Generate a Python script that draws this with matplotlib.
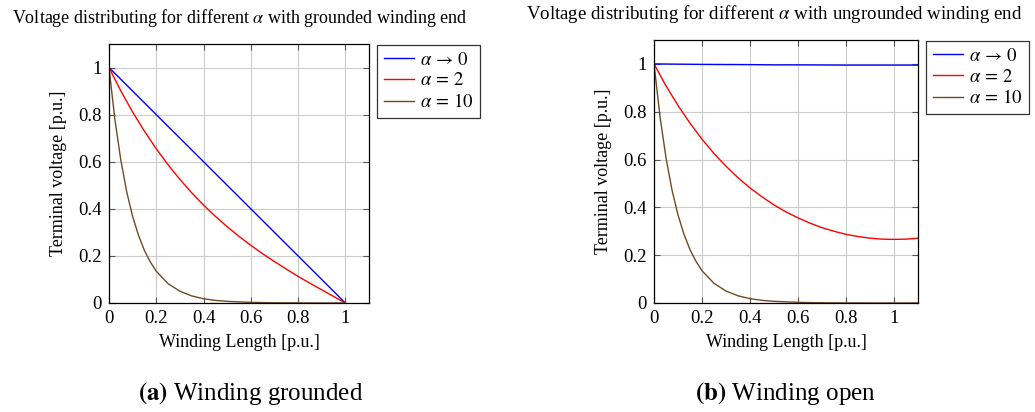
import numpy as np
import matplotlib
matplotlib.use("Agg")
import matplotlib.pyplot as plt

plt.rcParams['font.family'] = ['Liberation Serif', 'DejaVu Serif']
plt.rcParams['mathtext.fontset'] = 'stix'

# ---- data ----
x_lin = [0.0, 1.0]
g_a0 = [1.0, 0.0]

x_a2 = [0.0, 0.05, 0.1, 0.15, 0.2, 0.25, 0.3, 0.35, 0.4, 0.45, 0.5,
        0.55, 0.6, 0.65, 0.7, 0.75, 0.8, 0.85, 0.9, 0.95, 1.0]
g_a2 = [1.0, 0.901, 0.811, 0.730, 0.655, 0.587, 0.525, 0.468, 0.416, 0.368, 0.324,
        0.283, 0.245, 0.209, 0.176, 0.144, 0.113, 0.084, 0.056, 0.028, 0.0]

x_a10 = [0.0, 0.025, 0.05, 0.075, 0.1, 0.125, 0.15, 0.175, 0.2, 0.25, 0.3,
         0.35, 0.4, 0.45, 0.5, 0.6, 0.7, 0.8, 0.9, 1.0]
g_a10 = [1.0, 0.779, 0.607, 0.472, 0.368, 0.287, 0.223, 0.174, 0.135, 0.082, 0.050,
         0.030, 0.018, 0.011, 0.007, 0.0025, 0.0009, 0.0003, 0.0001, 0.0]

x_open0 = [0.0, 0.2, 0.4, 0.5, 0.6, 0.8, 1.0, 1.1]
o_a0 = [1.0, 0.998, 0.997, 0.996, 0.996, 0.995, 0.995, 0.995]

x_open2 = x_a2 + [1.05, 1.1]
o_a2 = [1.0, 0.908, 0.826, 0.752, 0.685, 0.625, 0.572, 0.524, 0.481, 0.444, 0.410,
        0.381, 0.356, 0.334, 0.315, 0.300, 0.287, 0.278, 0.271, 0.267, 0.266, 0.267, 0.271]

x_open10 = x_a10 + [1.1]
o_a10 = [1.0, 0.779, 0.607, 0.472, 0.368, 0.287, 0.223, 0.174, 0.135, 0.082, 0.050,
         0.030, 0.018, 0.011, 0.007, 0.0025, 0.0009, 0.0003, 0.0001, 0.0001, 0.0001]

labels = [r'$\alpha\,\rightarrow\,0$', r'$\alpha\,=\,2$', r'$\alpha\,=\,10$']
colors = ['#0000ff', '#ff0000', '#704a25']
ticks = [0, 0.2, 0.4, 0.6, 0.8, 1]
ticklabels = ['0', '0.2', '0.4', '0.6', '0.8', '1']

fig = plt.figure(figsize=(10.35, 4.12), dpi=100)
ax1 = fig.add_axes([0.1053, 0.2646, 0.2512, 0.6286])
ax2 = fig.add_axes([0.6319, 0.2646, 0.2551, 0.6383])

series = [
    (ax1, [(x_lin, g_a0), (x_a2, g_a2), (x_a10, g_a10)]),
    (ax2, [(x_open0, o_a0), (x_open2, o_a2), (x_open10, o_a10)]),
]

for ax, data in series:
    for (xs, ys), c, lab in zip(data, colors, labels):
        ax.plot(xs, ys, color=c, lw=1.0, label=lab)
    ax.set_xlim(0, 1.1)
    ax.set_ylim(0, 1.1)
    ax.set_xticks(ticks)
    ax.set_xticklabels(ticklabels)
    ax.set_yticks(ticks)
    ax.set_yticklabels(ticklabels)
    ax.grid(True, color='#cccccc', lw=0.8)
    ax.tick_params(direction='in', top=True, right=True, length=4, labelsize=13.5,
                   color='#555555', pad=5)
    for s in ax.spines.values():
        s.set_linewidth(0.9)
    ax.set_xlabel('Winding Length [p.u.]', fontsize=13, labelpad=5)
    ax.set_ylabel('Terminal voltage [p.u.]', fontsize=13, labelpad=8)

leg_kw = dict(loc='upper left', fontsize=13.5, frameon=True, fancybox=False,
              edgecolor='black', handlelength=1.6, handletextpad=0.35,
              borderpad=0.35, labelspacing=0.2, borderaxespad=0)
l1 = ax1.legend(bbox_to_anchor=(0.3643, 0.891), bbox_transform=fig.transFigure, **leg_kw)
l2 = ax2.legend(bbox_to_anchor=(0.8947, 0.9005), bbox_transform=fig.transFigure, **leg_kw)
for l in (l1, l2):
    l.get_frame().set_linewidth(0.9)

fig.text(0.2319, 0.956, r'Voltage distributing for different $\alpha$ with grounded winding end',
         ha='center', va='center', fontsize=13)
fig.text(0.748, 0.966, r'Voltage distributing for different $\alpha$ with ungrounded winding end',
         ha='center', va='center', fontsize=13.6)

fig.text(0.2425, 0.046, r'$\mathbf{(a)}$ Winding grounded', ha='center', va='center', fontsize=18)
fig.text(0.759, 0.046, r'$\mathbf{(b)}$ Winding open', ha='center', va='center', fontsize=18)

fig.savefig('out.png', dpi=100)
